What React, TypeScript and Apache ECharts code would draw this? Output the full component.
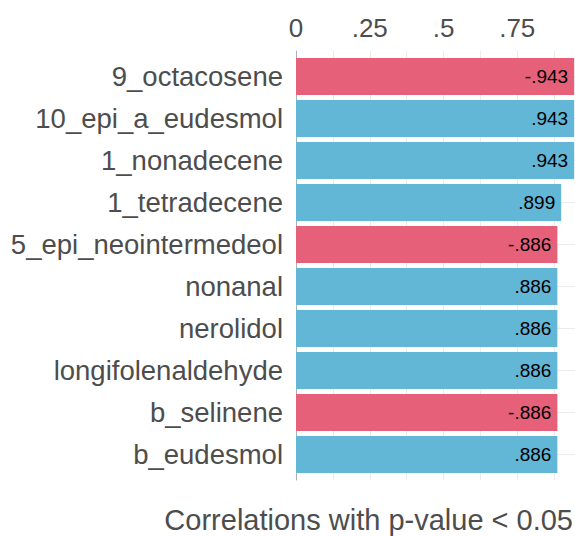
import React, { useEffect, useRef } from "react";
import * as echarts from "echarts";

const categories = [
  "9_octacosene",
  "10_epi_a_eudesmol",
  "1_nonadecene",
  "1_tetradecene",
  "5_epi_neointermedeol",
  "nonanal",
  "nerolidol",
  "longifolenaldehyde",
  "b_selinene",
  "b_eudesmol",
];
const correlations = [-0.943, 0.943, 0.943, 0.899, -0.886, 0.886, 0.886, 0.886, -0.886, 0.886];
const tickLabels: Record<string, string> = { "0": "0", "0.25": ".25", "0.5": ".5", "0.75": ".75" };
const titleText = "Correlations with p-value < 0.05";

const RED = "#E66079";
const BLUE = "#62B6D6";
const GRID = "#ebebeb";
const FONT = "'Liberation Sans', Arial, sans-serif";

function fmt(v: number): string {
  const s = Math.abs(v).toFixed(3).replace(/^0/, "");
  return (v < 0 ? "-" : "") + s;
}

export default function App() {
  const ref = useRef<HTMLDivElement>(null);
  useEffect(() => {
    if (!ref.current) return;
    document.body.style.margin = "0";
    document.body.style.overflow = "hidden";
    const chart = echarts.init(ref.current, undefined, { renderer: "svg" });
    chart.setOption({
      animation: false,
      backgroundColor: "#ffffff",
      textStyle: { fontFamily: FONT },
      title: {
        text: titleText,
        right: 2,
        top: 505,
        padding: 0,
        textStyle: { fontFamily: FONT, fontSize: 29, fontWeight: "normal", color: "#4d4d4d" },
      },
      grid: [
        { left: 296, top: 55.5, width: 295, height: 420, containLabel: false, outerBoundsMode: "none" },
        { left: 296, top: 51, width: 295, height: 429, containLabel: false, outerBoundsMode: "none" },
      ],
      xAxis: [
        {
          type: "value",
          gridIndex: 0,
          position: "top",
          min: 0,
          max: 1,
          interval: 0.125,
          axisLine: { show: false },
          axisTick: { show: false },
          splitLine: { show: false },
          axisLabel: {
            margin: 15,
            fontSize: 26,
            color: "#4d4d4d",
            fontFamily: FONT,
            formatter: (v: number) => {
              const k = String(Math.round(v * 1000) / 1000);
              return tickLabels[k] ?? "";
            },
          },
        },
        {
          type: "value",
          gridIndex: 1,
          min: 0,
          max: 1,
          interval: 0.125,
          axisLine: { show: false },
          axisTick: { show: false },
          axisLabel: { show: false },
          splitLine: { show: true, lineStyle: { color: GRID, width: 1 } },
        },
      ],
      yAxis: [
        {
          type: "category",
          gridIndex: 0,
          inverse: true,
          data: categories,
          axisLine: { show: false },
          axisTick: { show: false },
          splitLine: { show: false },
          axisLabel: { margin: 13, fontSize: 27.5, color: "#4d4d4d", fontFamily: FONT },
        },
        {
          type: "value",
          gridIndex: 1,
          min: 0,
          max: 1,
          axisLine: { show: true, lineStyle: { color: "#b0b0b0", width: 1 } },
          axisTick: { show: false },
          axisLabel: { show: false },
          splitLine: { show: false },
        },
      ],
      series: [
        {
          type: "line",
          xAxisIndex: 0,
          yAxisIndex: 0,
          data: [],
          z: 0,
          silent: true,
          markLine: {
            silent: true,
            z: 0,
            symbol: "none",
            label: { show: false },
            lineStyle: { color: GRID, width: 1, type: "solid" },
            data: categories.map((c) => ({ yAxis: c })),
          },
        },
        {
          type: "bar",
          xAxisIndex: 0,
          yAxisIndex: 0,
          z: 5,
          barWidth: 37,
          data: correlations.map((v) => ({
            value: Math.abs(v),
            itemStyle: { color: v < 0 ? RED : BLUE },
          })),
          label: {
            show: true,
            position: "insideRight",
            distance: 6,
            color: "#000000",
            fontSize: 19,
            fontFamily: FONT,
            formatter: (p: any) => fmt(correlations[p.dataIndex]),
          },
        },
      ],
    });
    return () => chart.dispose();
  }, []);
  return (
    <div
      ref={ref}
      style={{ position: "fixed", left: 0, top: 0, width: 575, height: 536 }}
    />
  );
}
